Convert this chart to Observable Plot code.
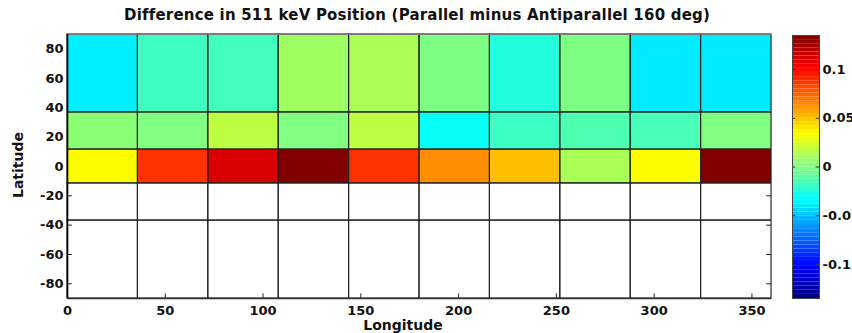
<!DOCTYPE html>
<html><head><meta charset="utf-8">
<script src="https://cdn.jsdelivr.net/npm/d3@7"></script>
<script src="https://cdn.jsdelivr.net/npm/@observablehq/plot@0.6"></script>
<style>
html,body{margin:0;padding:0;background:#fff;overflow:hidden;}
#wrap{position:relative;width:852px;height:333px;font-family:"DejaVu Sans",sans-serif;}
.layer{position:absolute;top:0;left:0;}
.layer svg{overflow:visible;max-width:none;}
.lbl{position:absolute;font-weight:bold;white-space:nowrap;color:#111;line-height:1;}
</style></head><body>
<div id="wrap">
  <div class="layer" id="main"></div>
  <div class="layer" id="cbar"></div>
  <div class="lbl" id="title" style="font-size:15px;letter-spacing:0.2px;left:0;width:834px;text-align:center;top:8px;">Difference in 511 keV Position (Parallel minus Antiparallel 160 deg)</div>
  <div class="lbl" id="ylab" style="font-size:14px;left:18px;top:165px;transform:translate(-50%,-50%) rotate(-90deg);">Latitude</div>
  <div class="lbl" id="xlab" style="font-size:14px;left:403px;top:318px;transform:translateX(-50%);">Longitude</div>
</div>
<script>
// ---- data ----
const lonEdges = [0, 36, 72, 108, 144, 180, 216, 252, 288, 324, 360];
const latEdges = [-90, -36.87, -11.54, 11.54, 36.87, 90];
const rowSouth    = [null, null, null, null, null, null, null, null, null, null];
const rowSouthMid = [null, null, null, null, null, null, null, null, null, null];
const rowEquator  = [0.034, 0.088, 0.111, 0.135, 0.088, 0.064, 0.051, 0.011, 0.034, 0.135];
const rowMid      = [0.003, 0.000, 0.016, 0.000, 0.016, -0.032, -0.018, -0.013, -0.015, 0.000];
const rowNorth    = [-0.038, -0.017, -0.016, 0.008, 0.011, -0.001, -0.025, -0.001, -0.039, -0.039];
const xTicks = [0, 50, 100, 150, 200, 250, 300, 350];
const yTicks = [-80, -60, -40, -20, 0, 20, 40, 60, 80];
const cbTicks = [-0.1, -0.05, 0, 0.05, 0.1];
const colorDomain = [-0.135, 0.135];

// ---- jet colormap ----
function jet(t) {
  const c = v => Math.max(0, Math.min(1, v));
  const r = c(Math.min(4 * t - 1.5, -4 * t + 4.5));
  const g = c(Math.min(4 * t - 0.5, -4 * t + 3.5));
  const b = c(Math.min(4 * t + 0.5, -4 * t + 2.5));
  return `rgb(${Math.round(r * 255)},${Math.round(g * 255)},${Math.round(b * 255)})`;
}

const rows = [rowSouth, rowSouthMid, rowEquator, rowMid, rowNorth];
const cells = rows.flatMap((row, r) => row.map((v, i) => ({
  x1: lonEdges[i], x2: lonEdges[i + 1], y1: latEdges[r], y2: latEdges[r + 1], v
})));
const filled = cells.filter(d => d.v !== null);

const colorOpt = {type: "linear", domain: colorDomain, interpolate: jet};
const fontStyle = {fontFamily: "DejaVu Sans", fontSize: "13px", fontWeight: "bold", color: "#111", overflow: "visible", maxWidth: "none"};

const main = Plot.plot({
  width: 852, height: 333,
  marginLeft: 67, marginRight: 81, marginTop: 34, marginBottom: 35,
  style: fontStyle,
  x: {domain: [0, 360]},
  y: {domain: [-90, 90]},
  color: colorOpt,
  marks: [
    Plot.ruleX(xTicks, {x: d => d, y1: -90, y2: -86.9, stroke: "#222"}),
    Plot.ruleY(yTicks, {y: d => d, x1: 0, x2: 2.5, stroke: "#222"}),
    Plot.ruleY(yTicks, {y: d => d, x1: 357.5, x2: 360, stroke: "#222"}),
    Plot.rect(filled, {x1: "x1", x2: "x2", y1: "y1", y2: "y2", fill: "v"}),
    Plot.rect(cells, {x1: "x1", x2: "x2", y1: "y1", y2: "y2", fill: "none", stroke: "#222", strokeWidth: 1.1}),
    Plot.frame({stroke: "#777"}),
    Plot.ruleX([0], {stroke: "#000", strokeWidth: 1.6}),
    Plot.ruleY([-90], {stroke: "#333", strokeWidth: 1.4}),
    Plot.axisX(xTicks, {tickSize: 0, tickPadding: 7, label: null, fill: "#111", tickFormat: d => String(d)}),
    Plot.axisY(yTicks, {tickSize: 0, tickPadding: 4, label: null, fill: "#111", tickFormat: d => String(d)})
  ]
});
document.getElementById("main").appendChild(main);

// ---- colorbar ----
const nLevels = 64;
const step = (colorDomain[1] - colorDomain[0]) / nLevels;
const cbBins = d3.range(nLevels).map(i => ({y1: colorDomain[0] + i * step, y2: colorDomain[0] + (i + 1) * step, v: colorDomain[0] + (i + 0.5) * step}));

const cbar = Plot.plot({
  width: 100, height: 333,
  marginLeft: 12, marginRight: 61, marginTop: 35, marginBottom: 35,
  style: fontStyle,
  x: {domain: [0, 1], axis: null},
  y: {domain: colorDomain},
  color: colorOpt,
  marks: [
    Plot.rect(cbBins, {x1: 0, x2: 1, y1: "y1", y2: "y2", fill: "v"}),
    Plot.ruleY(cbTicks, {y: d => d, x1: 0, x2: 0.12, stroke: "#333"}),
    Plot.ruleY(cbTicks, {y: d => d, x1: 0.88, x2: 1, stroke: "#333"}),
    Plot.frame({stroke: "#444"}),
    Plot.axisY(cbTicks, {anchor: "right", tickSize: 0, tickPadding: 3, label: null, fill: "#111", tickFormat: d => String(d)})
  ]
});
const cbDiv = document.getElementById("cbar");
cbDiv.style.left = "780px";
cbDiv.appendChild(cbar);
</script>
</body></html>
